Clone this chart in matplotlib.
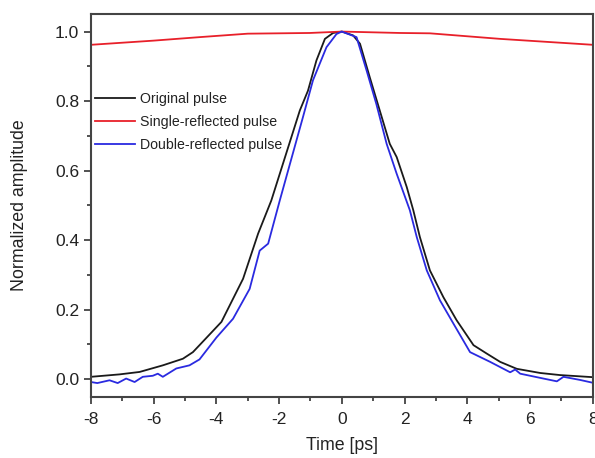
import numpy as np
import matplotlib.pyplot as plt
from matplotlib.ticker import MultipleLocator

plt.rcParams['font.family'] = ['Liberation Sans', 'DejaVu Sans']
plt.rcParams['axes.unicode_minus'] = False

# data
t_orig = [-8.0, -7.09, -6.45, -5.71, -5.07, -4.75, -4.54, -3.84, -3.15, -2.67, -2.25,
          -1.34, -1.08, -0.81, -0.54, -0.28, 0.0, 0.36, 0.58, 0.89, 1.21, 1.53, 1.75,
          2.07, 2.28, 2.49, 2.81, 3.24, 3.66, 4.2, 4.62, 5.05, 5.58, 6.33, 6.96, 8.0]
a_orig = [0.007, 0.014, 0.021, 0.040, 0.059, 0.078, 0.098, 0.165, 0.289, 0.419, 0.514,
          0.773, 0.830, 0.917, 0.979, 0.996, 1.0, 0.989, 0.965, 0.869, 0.773, 0.677, 0.639,
          0.553, 0.486, 0.409, 0.313, 0.236, 0.170, 0.098, 0.074, 0.050, 0.030, 0.018, 0.012, 0.006]

t_single = [-8.0, -6.0, -4.54, -3.0, -1.02, 0.0, 1.85, 2.81, 5.05, 8.0]
a_single = [0.962, 0.974, 0.984, 0.994, 0.996, 1.0, 0.996, 0.995, 0.979, 0.962]

t_double = [-8.0, -7.8, -7.41, -7.15, -6.88, -6.61, -6.35, -6.03, -5.87, -5.71, -5.28,
            -4.86, -4.54, -4.0, -3.47, -2.94, -2.62, -2.35, -1.98, -1.24, -0.92, -0.49,
            -0.17, 0.0, 0.47, 0.79, 1.1, 1.43, 1.75, 2.17, 2.39, 2.71, 3.13, 3.56, 4.09,
            4.41, 4.73, 5.05, 5.37, 5.53, 5.69, 6.43, 6.86, 7.07, 7.6, 8.0]
a_double = [-0.008, -0.011, -0.003, -0.011, 0.002, -0.008, 0.007, 0.010, 0.016, 0.007, 0.031,
            0.040, 0.057, 0.120, 0.174, 0.260, 0.370, 0.390, 0.514, 0.754, 0.860, 0.955,
            0.993, 1.0, 0.984, 0.888, 0.792, 0.677, 0.591, 0.486, 0.409, 0.313, 0.227, 0.160, 0.078,
            0.064, 0.050, 0.035, 0.020, 0.028, 0.016, 0.002, -0.006, 0.007, -0.002, -0.010]

fig = plt.figure(figsize=(5.95, 4.58), dpi=100)
ax = fig.add_axes([0.153, 0.134, 0.843, 0.835])

ax.plot(t_orig, a_orig, color='#1a1a1a', lw=1.3, label='Original pulse')
ax.plot(t_single, a_single, color='#e8202a', lw=1.3, label='Single-reflected pulse')
ax.plot(t_double, a_double, color='#2a2ae0', lw=1.3, label='Double-reflected pulse')

ax.set_xlim(-8, 8)
ax.set_ylim(-0.05, 1.05)
ax.xaxis.set_major_locator(MultipleLocator(2))
ax.xaxis.set_minor_locator(MultipleLocator(1))
ax.yaxis.set_major_locator(MultipleLocator(0.2))
ax.yaxis.set_minor_locator(MultipleLocator(0.1))
ax.tick_params(which='both', direction='out', top=False, right=False,
               color='#333333', width=1.2, labelsize=12.5, labelcolor='#222222')
ax.tick_params(which='major', length=5)
ax.tick_params(axis='x', which='major', pad=6)
ax.tick_params(which='minor', length=3)
for s in ax.spines.values():
    s.set_color('#444444')
    s.set_linewidth(1.5)

ax.set_xlabel('Time [ps]', fontsize=12.8, color='#222222')
ax.set_ylabel('Normalized amplitude', fontsize=12.8, color='#222222')
ax.xaxis.set_label_coords(0.5, -0.129, transform=ax.transAxes)
ax.yaxis.set_label_coords(-0.1435, 0.5, transform=ax.transAxes)
ax.xaxis.label.set_va('center')
ax.yaxis.label.set_va('center')

ax.legend(loc='upper left', bbox_to_anchor=(0.008, 0.797), frameon=False,
          fontsize=10.2, handlelength=2.8, handletextpad=0.35, labelspacing=0.65,
          borderpad=0, borderaxespad=0, labelcolor='#222222')

fig.savefig('out.png', dpi=100)
